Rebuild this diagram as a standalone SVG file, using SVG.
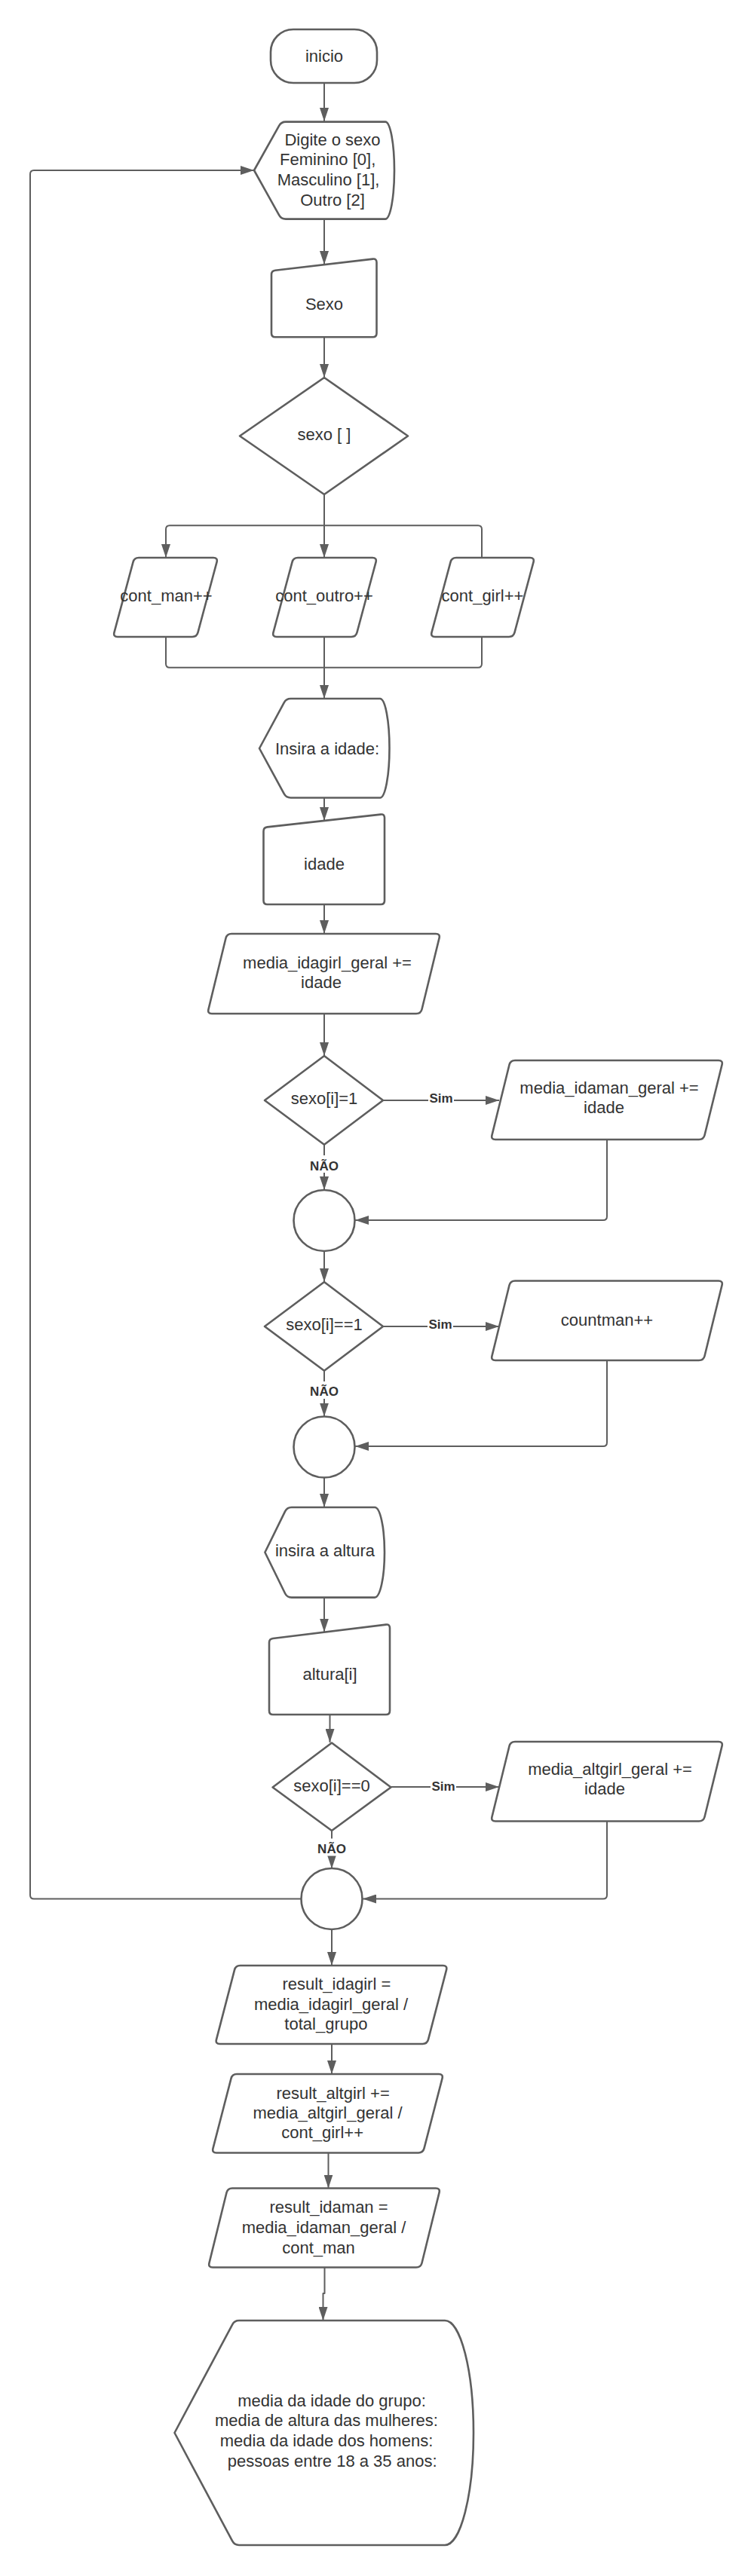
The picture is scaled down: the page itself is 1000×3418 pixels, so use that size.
<svg xmlns="http://www.w3.org/2000/svg" width="1000" height="3418" viewBox="0 0 1000 3418">
<style>
.s{fill:#fff;stroke:#5e5e5e;stroke-width:2.6;stroke-linejoin:round}
.c{fill:none;stroke:#5e5e5e;stroke-width:2;stroke-linejoin:round}
.a{marker-end:url(#ah)}
.t{font-family:"Liberation Sans",Arial,sans-serif;font-size:22px;fill:#333;text-anchor:middle}
.lb{font-family:"Liberation Sans",Arial,sans-serif;font-size:17px;font-weight:bold;fill:#333;text-anchor:middle}
.bg{fill:#fff}
</style>
<defs>
<marker id="ah" markerUnits="userSpaceOnUse" markerWidth="18" markerHeight="12" refX="18" refY="6" orient="auto" viewBox="0 0 18 12"><path d="M0,0 L18,6 L0,12 Z" fill="#5e5e5e"/></marker>
</defs>
<rect x="0" y="0" width="1000" height="3418" fill="#fff"/>
<g id="connectors">
<path class="c a" d="M430,110 V161"/>
<path class="c a" d="M430,290.6 V351"/>
<path class="c a" d="M430,447.3 V501"/>
<path class="c a" d="M430,656 V740"/>
<path class="c a" d="M430,697.3 H225 Q220,697.3 220,702.3 V740"/>
<path class="c" d="M430,697.3 H634 Q639,697.3 639,702.3 V740"/>
<path class="c" d="M220,845 V880.7 Q220,885.7 225,885.7 H634 Q639,885.7 639,880.7 V845"/>
<path class="c a" d="M430,845 V927"/>
<path class="c a" d="M430,1058.5 V1089"/>
<path class="c a" d="M430,1200 V1239"/>
<path class="c a" d="M430,1345 V1401"/>
<path class="c a" d="M508,1460 H662"/>
<path class="c a" d="M805,1512 V1614 Q805,1619 800,1619 H471"/>
<path class="c a" d="M430,1518.75 V1579"/>
<path class="c a" d="M430,1660 V1701"/>
<path class="c a" d="M508,1760 H662"/>
<path class="c a" d="M805,1805 V1914 Q805,1919 800,1919 H471"/>
<path class="c a" d="M430,1818.75 V1879.5"/>
<path class="c a" d="M430,1960 V2000"/>
<path class="c a" d="M430,2119.6 V2165.5"/>
<path class="c a" d="M437.5,2275 V2312"/>
<path class="c a" d="M518.5,2371 H662"/>
<path class="c a" d="M805,2416.5 V2514.5 Q805,2519.5 800,2519.5 H481"/>
<path class="c a" d="M440,2430 V2479.5"/>
<path class="c a" d="M399.5,2519.5 H45 Q40,2519.5 40,2514.5 V231 Q40,226 45,226 H337"/>
<path class="c a" d="M440,2560 V2608"/>
<path class="c a" d="M440,2712 V2752"/>
<path class="c a" d="M435.5,2856.5 V2903.5"/>
<path class="c a" d="M430.5,3008.5 V3043 H428.5 V3079"/>
<rect class="bg" x="568" y="1448" width="34" height="20"/>
<text class="lb" x="585" y="1463">Sim</text>
<rect class="bg" x="567" y="1748" width="34" height="20"/>
<text class="lb" x="584" y="1763">Sim</text>
<rect class="bg" x="571" y="1361" width="34" height="20" transform="translate(0,1000)"/>
<text class="lb" x="588" y="2376">Sim</text>
<rect class="bg" x="409" y="1533" width="42" height="23"/>
<text class="lb" x="430" y="1552.5">NÃO</text>
<rect class="bg" x="409" y="1833" width="42" height="23"/>
<text class="lb" x="430" y="1852.3">NÃO</text>
<rect class="bg" x="419" y="2439.5" width="42" height="23"/>
<text class="lb" x="440" y="2458.5">NÃO</text>
</g>
<g id="inicio">
<rect class="s" x="359" y="39" width="141" height="71" rx="30" ry="30"/>
<text class="t" x="430" y="82">inicio</text>
</g>
<g id="display-sexo">
<path class="s" d="M337,226 L370.1,166.8 Q373,161.6 379,161.6 H511 A12,64.5 0 0 1 511,290.6 H379 Q373,290.6 370.1,285.4 Z"/>
<text class="t" x="441" y="192.7">Digite o sexo</text>
<text class="t" x="434.7" y="219.3">Feminino [0],</text>
<text class="t" x="435.5" y="246">Masculino [1],</text>
<text class="t" x="441" y="272.7">Outro [2]</text>
</g>
<g id="input-sexo">
<path class="s" d="M360,364.4 Q360,359.4 365,358.8 L494.5,343.6 Q499.5,343 499.5,348 V442.3 Q499.5,447.3 494.5,447.3 H365 Q360,447.3 360,442.3 Z"/>
<text class="t" x="430" y="411">Sexo</text>
</g>
<g id="decision-sexo">
<polygon class="s" points="430,501 541,578.5 430,656 318,578.5"/>
<text class="t" x="430" y="583.5">sexo [ ]</text>
</g>
<g id="cont-man">
<path class="s" d="M184,740 H283 Q289,740 287.5,745.8 L262.5,839.2 Q261,845 255,845 H156 Q150,845 151.5,839.2 L176.5,745.8 Q178,740 184,740 Z"/>
<text class="t" x="220.5" y="797.5">cont_man++</text>
</g>
<g id="cont-outro">
<path class="s" d="M395,740 H494 Q500,740 498.5,745.8 L473.5,839.2 Q472,845 466,845 H367 Q361,845 362.5,839.2 L387.5,745.8 Q389,740 395,740 Z"/>
<text class="t" x="430" y="797.5">cont_outro++</text>
</g>
<g id="cont-girl">
<path class="s" d="M605,740 H703 Q709,740 707.5,745.8 L682.5,839.2 Q681,845 675,845 H577 Q571,845 572.5,839.2 L597.5,745.8 Q599,740 605,740 Z"/>
<text class="t" x="640" y="797.5">cont_girl++</text>
</g>
<g id="display-idade">
<path class="s" d="M344,993 L376.7,932.3 Q379.5,927 385.5,927 H504 A12.5,65.75 0 0 1 504,1058.5 H385.5 Q379.5,1058.5 376.7,1053.2 Z"/>
<text class="t" x="434" y="1000.5">Insira a idade:</text>
</g>
<g id="input-idade">
<path class="s" d="M349.5,1103 Q349.5,1098 354.5,1097.4 L505,1080.6 Q510,1080 510,1085 V1195 Q510,1200 505,1200 H354.5 Q349.5,1200 349.5,1195 Z"/>
<text class="t" x="430" y="1153.5">idade</text>
</g>
<g id="media-idagirl">
<path class="s" d="M307,1239 H578 Q584,1239 582.5,1244.8 L559.5,1339.2 Q558,1345 552,1345 H281 Q275,1345 276.5,1339.2 L299.5,1244.8 Q301,1239 307,1239 Z"/>
<text class="t" x="434" y="1284.5">media_idagirl_geral +=</text>
<text class="t" x="426" y="1310.5">idade</text>
</g>
<g id="decision-1">
<polygon class="s" points="430,1401 508,1460 430,1518.75 351,1460"/>
<text class="t" x="430" y="1465">sexo[i]=1</text>
</g>
<g id="media-idaman">
<path class="s" d="M683,1407 H953 Q959,1407 957.5,1412.8 L934.5,1506.2 Q933,1512 927,1512 H657 Q651,1512 652.5,1506.2 L675.5,1412.8 Q677,1407 683,1407 Z"/>
<text class="t" x="808" y="1450.7">media_idaman_geral +=</text>
<text class="t" x="801" y="1477.3">idade</text>
</g>
<g id="merge-1">
<circle class="s" cx="430" cy="1619.5" r="40.5"/>
</g>
<g id="decision-2">
<polygon class="s" points="430,1701 508,1760 430,1818.75 351,1760"/>
<text class="t" x="430" y="1765">sexo[i]==1</text>
</g>
<g id="countman">
<path class="s" d="M683,1699.5 H953 Q959,1699.5 957.5,1705.3 L934.5,1799.2 Q933,1805 927,1805 H657 Q651,1805 652.5,1799.2 L675.5,1705.3 Q677,1699.5 683,1699.5 Z"/>
<text class="t" x="805" y="1759.3">countman++</text>
</g>
<g id="merge-2">
<circle class="s" cx="430" cy="1920" r="40.5"/>
</g>
<g id="display-altura">
<path class="s" d="M351.4,2059.8 L378.1,2005.4 Q380.7,2000 386.7,2000 H497 A13,59.8 0 0 1 497,2119.6 H386.7 Q380.7,2119.6 378.1,2114.2 Z"/>
<text class="t" x="431" y="2064.5">insira a altura</text>
</g>
<g id="input-altura">
<path class="s" d="M357,2179.6 Q357,2174.6 362,2174 L512,2155.6 Q517,2155 517,2160 V2270 Q517,2275 512,2275 H362 Q357,2275 357,2270 Z"/>
<text class="t" x="437.5" y="2228.5">altura[i]</text>
</g>
<g id="decision-3">
<polygon class="s" points="440,2312.5 518.5,2371.5 440,2429 361.6,2371.5"/>
<text class="t" x="440" y="2377">sexo[i]==0</text>
</g>
<g id="media-altgirl">
<path class="s" d="M683,2311 H953 Q959,2311 957.5,2316.8 L934.5,2410.7 Q933,2416.5 927,2416.5 H657 Q651,2416.5 652.5,2410.7 L675.5,2316.8 Q677,2311 683,2311 Z"/>
<text class="t" x="809" y="2354.5">media_altgirl_geral +=</text>
<text class="t" x="802" y="2380.5">idade</text>
</g>
<g id="merge-3">
<circle class="s" cx="440" cy="2519.5" r="40.5"/>
</g>
<g id="result-idagirl">
<path class="s" d="M318.5,2608 H587.5 Q593.5,2608 592,2613.8 L568,2706.2 Q566.5,2712 560.5,2712 H291.5 Q285.5,2712 287,2706.2 L311,2613.8 Q312.5,2608 318.5,2608 Z"/>
<text class="t" x="446.4" y="2640">result_idagirl =</text>
<text class="t" x="439" y="2666.5">media_idagirl_geral /</text>
<text class="t" x="432.4" y="2693">total_grupo</text>
</g>
<g id="result-altgirl">
<path class="s" d="M314,2752 H582 Q588,2752 586.5,2757.8 L562.5,2850.7 Q561,2856.5 555,2856.5 H287 Q281,2856.5 282.5,2850.7 L306.5,2757.8 Q308,2752 314,2752 Z"/>
<text class="t" x="441.6" y="2784.5">result_altgirl +=</text>
<text class="t" x="434.6" y="2811">media_altgirl_geral /</text>
<text class="t" x="427.6" y="2837">cont_girl++</text>
</g>
<g id="result-idaman">
<path class="s" d="M308,2903.5 H578 Q584,2903.5 582.5,2909.3 L559.5,3002.7 Q558,3008.5 552,3008.5 H282 Q276,3008.5 277.5,3002.7 L300.5,2909.3 Q302,2903.5 308,2903.5 Z"/>
<text class="t" x="436" y="2936">result_idaman =</text>
<text class="t" x="429.5" y="2963">media_idaman_geral /</text>
<text class="t" x="422.5" y="2990">cont_man</text>
</g>
<g id="display-result">
<path class="s" d="M231.5,3228 L308.2,3084.3 Q311,3079 317,3079 H590 A38,149 0 0 1 590,3377 H317 Q311,3377 308.2,3371.7 Z"/>
<text class="t" x="440" y="3192.5">media da idade do grupo:</text>
<text class="t" x="433" y="3218.5">media de altura das mulheres:</text>
<text class="t" x="433" y="3245.5">media da idade dos homens:</text>
<text class="t" x="440.7" y="3272.5">pessoas entre 18 a 35 anos:</text>
</g>
</svg>
